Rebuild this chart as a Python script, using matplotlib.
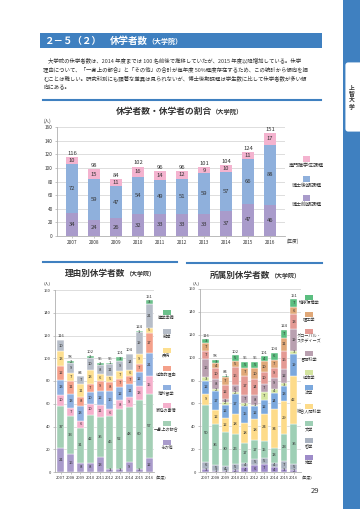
import matplotlib
matplotlib.use("Agg")
import matplotlib.pyplot as plt
from matplotlib.patches import Rectangle, FancyBboxPatch
import numpy as np

plt.rcParams['font.family'] = ['Noto Sans CJK JP', 'DejaVu Sans']

W, H = 360, 509
BLUE = '#3f80c0'
TXT = '#333333'

years = ['2007', '2008', '2009', '2010', '2011', '2012', '2013', '2014', '2015', '2016']

# --- 休学者数・休学者の割合 (課程別) ---
course_labels = ['博士前期課程', '博士後期課程', '専門職学位課程']
course_master = [34, 24, 26, 32, 33, 33, 33, 37, 47, 46]
course_doctor = [72, 59, 47, 54, 49, 51, 59, 57, 66, 88]
course_prof = [10, 15, 11, 16, 14, 12, 9, 10, 11, 17]
course_colors = ['#a99bcb', '#8fb0dc', '#f4b3cf']

# --- 理由別休学者数 (bottom -> top) ---
reason_labels = ['その他', '一身上の都合', '家庭の事情', '海外留学', '経済的理由', '疾病', '就職', '進学準備']
reason_other = [21, 16, 8, 8, 13, 3, 3, 9, 3, 12]
reason_personal = [37, 33, 31, 42, 35, 46, 52, 48, 60, 57]
reason_family = [10, 7, 6, 10, 11, 6, 8, 9, 13, 15]
reason_abroad = [13, 13, 13, 10, 12, 16, 12, 11, 12, 21]
reason_money = [12, 11, 8, 7, 9, 8, 7, 7, 7, 17]
reason_illness = [13, 7, 11, 13, 6, 5, 7, 6, 9, 5]
reason_job = [10, 9, 7, 10, 8, 11, 9, 14, 19, 21]
reason_prep = [0, 2, 0, 2, 2, 1, 3, 0, 1, 3]
reason_colors = ['#a99bcb', '#a3cfb5', '#f5b0cc', '#8fb0e0', '#f4a08a', '#fddf90', '#b6bdc8', '#6cc08b']

# --- 所属別休学者数 (bottom -> top) ---
dept_labels = ['神学', '哲学', '文学', '総合人間科学', '法学', '経済学', '言語科学',
               'グローバル・\nスタディーズ', '理工学', '地球環境学']
dept_theo = [3, 1, 1, 2, 4, 6, 7, 4, 3, 2]
dept_phil = [6, 5, 4, 5, 4, 5, 5, 4, 7, 5]
dept_lit = [50, 36, 30, 26, 17, 17, 15, 13, 23, 35]
dept_human = [9, 12, 12, 18, 18, 18, 24, 34, 29, 42]
dept_law = [12, 17, 12, 17, 15, 12, 12, 14, 13, 19]
dept_econ = [3, 2, 2, 2, 2, 1, 7, 4, 3, 3]
dept_ling = [16, 8, 3, 6, 7, 8, 7, 9, 12, 19]
dept_global = [7, 10, 12, 16, 17, 14, 10, 9, 16, 13]
dept_sci = [7, 4, 7, 5, 7, 10, 10, 7, 11, 6]
dept_env = [3, 3, 1, 5, 5, 5, 4, 6, 7, 7]
dept_colors = ['#9e8cc9', '#a9b2c0', '#9ecfb5', '#fddb8a', '#7ba8dd', '#d4e5a0',
               '#b9a0b0', '#e49a94', '#e0a878', '#5bbe80']

fig = plt.figure(figsize=(W / 100, H / 100), dpi=100)
bg = fig.add_axes([0, 0, 1, 1])
bg.set_xlim(0, W)
bg.set_ylim(H, 0)
bg.axis('off')


def px_axes(l, t, r, b):
    ax = fig.add_axes([l / W, 1 - b / H, (r - l) / W, (b - t) / H])
    ax.patch.set_alpha(0)
    return ax


def stacked(ax, series, colors, width, fs, edge):
    x = np.arange(len(years))
    bottom = np.zeros(len(years))
    for vals, c in zip(series, colors):
        vals = np.array(vals)
        ax.bar(x, vals, width, bottom=bottom, color=c, edgecolor=edge, linewidth=0.3)
        for xi, v, b in zip(x, vals, bottom):
            if v > 0:
                ax.text(xi, b + v / 2, str(v), ha='center', va='center', fontsize=fs, color=TXT)
        bottom += vals
    for xi, t in zip(x, bottom):
        ax.text(xi, t + 1.5, str(int(t)), ha='center', va='bottom', fontsize=fs, color=TXT)


def style(ax, xlim, fs):
    ax.set_xlim(*xlim)
    ax.set_ylim(0, 160)
    ax.set_yticks(range(0, 161, 20))
    ax.set_xticks(np.arange(len(years)))
    ax.set_xticklabels(years)
    ax.grid(axis='y', color='#d0d0d0', lw=0.5)
    ax.set_axisbelow(True)
    for s in ['top', 'right']:
        ax.spines[s].set_visible(False)
    for s in ['left', 'bottom']:
        ax.spines[s].set_color('#b0b0b0')
        ax.spines[s].set_linewidth(0.6)
    ax.tick_params(labelsize=fs, length=1.5, width=0.4, color='#999999', pad=1.5, labelcolor=TXT)


def legend(items, colors, cx, ys, fs, sq_w=8, sq_h=6):
    for lab, c, y in zip(items, colors, ys):
        bg.add_patch(Rectangle((cx - sq_w / 2, y - sq_h / 2), sq_w, sq_h, color=c, lw=0))
        bg.text(cx, y + sq_h / 2 + 1, lab, ha='center', va='top', fontsize=fs, color=TXT,
                linespacing=1.0)


# ---- page header ----
bg.add_patch(Rectangle((40, 33), 282, 15, color=BLUE, lw=0))
bg.text(45, 40.8, '２－５（２）', color='white', fontsize=6.8, weight='bold', va='center')
bg.text(110, 40.8, '休学者数', color='white', fontsize=6.8, weight='bold', va='center')
bg.text(147, 41.2, '（大学院）', color='white', fontsize=5.0, weight='bold', va='center')

para = [
    '大学院の休学者数は、2014 年度までは 100 名前後で推移していたが、2015 年度以降増加している。休学',
    '理由について、「一身上の都合」と「その他」の合計が毎年度 50%程度存在するため、この統計から傾向を掴',
    'むことは難しい。研究科別にも顕著な差異は見られないが、博士後期課程は学生数に比して休学者数が多い傾',
    '向にある。',
]
for i, line in enumerate(para):
    bg.text(48 if i == 0 else 43, 60 + i * 9.3, line, fontsize=3.9, color=TXT, va='center')

# side band
bg.add_patch(Rectangle((343, 0), 17, H, color=BLUE, lw=0))
bg.add_patch(FancyBboxPatch((345, 62), 20, 70, boxstyle='round,pad=0,rounding_size=3',
                            facecolor='white', edgecolor=BLUE, lw=0.6))
for i, ch in enumerate('上智大学'):
    bg.text(351.5, 88 + i * 6.3, ch, fontsize=4.2, color=TXT, ha='center', va='center', weight='bold')

bg.text(315, 491, '29', fontsize=5.5, color=TXT, ha='center', va='center')

# ---- top chart ----
bg.plot([43, 321], [100, 100], color=BLUE, lw=1.5)
bg.text(212, 111, '休学者数・休学者の割合', ha='right', va='center', fontsize=6.3, color=TXT, weight='bold')
bg.text(212, 111.5, '（大学院）', ha='left', va='center', fontsize=4.5, color=TXT, weight='bold')
ax1 = px_axes(57, 127, 285, 236)
stacked(ax1, [course_master, course_doctor, course_prof], course_colors, 0.55, 4.2, 'none')
style(ax1, (-0.68, 9.68), 3.4)
bg.text(44, 121, '(人)', fontsize=3.3, color=TXT, va='center')
bg.text(287, 241.5, '(年度)', fontsize=3.3, color=TXT, va='center')
legend(course_labels[::-1], course_colors[::-1], 306.5, [159, 179, 198], 3.6, 7, 6)

# ---- bottom-left chart ----
bg.plot([43, 177], [262, 262], color=BLUE, lw=1.5)
bg.text(125, 273, '理由別休学者数', ha='right', va='center', fontsize=6.2, color=TXT, weight='bold')
bg.text(125, 273.5, '（大学院）', ha='left', va='center', fontsize=4.3, color=TXT, weight='bold')
ax2 = px_axes(55, 290, 154, 472)
stacked(ax2, [reason_other, reason_personal, reason_family, reason_abroad, reason_money,
              reason_illness, reason_job, reason_prep], reason_colors, 0.7, 3.0, 'white')
style(ax2, (-0.6, 9.5), 2.9)
bg.text(44, 283, '(人)', fontsize=3.0, color=TXT, va='center')
bg.text(156, 477.5, '(年度)', fontsize=2.9, color=TXT, va='center')
legend(reason_labels[::-1], reason_colors[::-1], 166.5,
       [312, 331, 350, 368, 387, 405, 423, 442], 3.0, 8, 5)

# ---- bottom-right chart ----
bg.plot([187, 322], [263, 263], color=BLUE, lw=1.5)
bg.text(270, 275, '所属別休学者数', ha='right', va='center', fontsize=6.2, color=TXT, weight='bold')
bg.text(270, 275.5, '（大学院）', ha='left', va='center', fontsize=4.3, color=TXT, weight='bold')
ax3 = px_axes(200, 289, 301, 472)
stacked(ax3, [dept_theo, dept_phil, dept_lit, dept_human, dept_law, dept_econ, dept_ling,
              dept_global, dept_sci, dept_env], dept_colors, 0.7, 3.0, 'white')
style(ax3, (-0.6, 9.75), 2.9)
bg.text(193, 283, '(人)', fontsize=3.0, color=TXT, va='center')
bg.text(302, 477.5, '(年度)', fontsize=2.9, color=TXT, va='center')
legend(dept_labels[::-1], dept_colors[::-1], 309,
       [297, 314, 331, 353, 372, 387, 406, 423, 440, 457], 3.0, 8, 5)

fig.savefig('out.png', dpi=100)
